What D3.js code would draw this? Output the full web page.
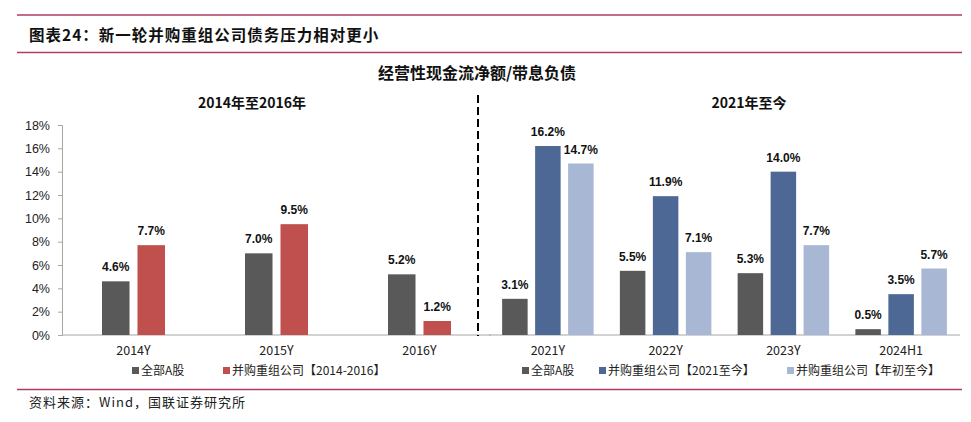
<!DOCTYPE html>
<html>
<head>
<meta charset="utf-8">
<script src="https://cdn.jsdelivr.net/npm/d3@7"></script>
<style>
  html, body { margin: 0; padding: 0; background: #ffffff; }
  svg { display: block; }
</style>
</head>
<body>
<svg id="chart" width="971" height="422"></svg>
<script>
// ---------------- data ----------------
const periodsA = ["2014Y", "2015Y", "2016Y"];
const periodsB = ["2021Y", "2022Y", "2023Y", "2024H1"];
const seriesA = ["全部A股", "并购重组公司【2014-2016】"];
const seriesB = ["全部A股", "并购重组公司【2021至今】", "并购重组公司【年初至今】"];
const allA_2014 = [4.6, 7.0, 5.2];
const ma_2014 = [7.7, 9.5, 1.2];
const allA_2021 = [3.1, 5.5, 5.3, 0.5];
const ma_2021 = [16.2, 11.9, 14.0, 3.5];
const ma_ytd = [14.7, 7.1, 7.7, 5.7];
const yTicks = [0, 2, 4, 6, 8, 10, 12, 14, 16, 18];
const headerTitle = "图表24：新一轮并购重组公司债务压力相对更小";
const chartTitle = "经营性现金流净额/带息负债";
const panelTitles = ["2014年至2016年", "2021年至今"];
const sourceText = "资料来源：Wind，国联证券研究所";

const colorsA = ["#595959", "#c0504d"];
const colorsB = ["#595959", "#4e6896", "#a8b7d4"];
const rule = "#b23a68";
const sans = "'Liberation Sans', Arial, sans-serif";
const cjk = "'Noto Sans CJK SC', 'Noto Sans', sans-serif";

const svg = d3.select("#chart");

// header rules and title
svg.append("line").attr("x1", 17).attr("x2", 962).attr("y1", 15).attr("y2", 15)
  .attr("stroke", rule).attr("stroke-width", 1.5);
svg.append("line").attr("x1", 17).attr("x2", 962).attr("y1", 52.5).attr("y2", 52.5)
  .attr("stroke", rule).attr("stroke-width", 1.5);
svg.append("text").attr("x", 29).attr("y", 40.5)
  .attr("font-family", cjk).attr("font-weight", "bold").attr("font-size", 15.5)
  .attr("letter-spacing", 1).attr("fill", "#111").text(headerTitle);

// footer
svg.append("line").attr("x1", 17).attr("x2", 962).attr("y1", 389.5).attr("y2", 389.5)
  .attr("stroke", rule).attr("stroke-width", 1.5);
svg.append("text").attr("x", 29).attr("y", 406.5)
  .attr("font-family", cjk).attr("font-size", 13).attr("letter-spacing", 1)
  .attr("fill", "#222").text(sourceText);

// chart title
svg.append("text").attr("x", 477).attr("y", 79).attr("text-anchor", "middle")
  .attr("font-family", cjk).attr("font-weight", "bold").attr("font-size", 16)
  .attr("fill", "#111").text(chartTitle);

// panel titles
svg.append("text").attr("x", 252).attr("y", 108).attr("text-anchor", "middle")
  .attr("font-family", cjk).attr("font-weight", "bold").attr("font-size", 14)
  .attr("fill", "#111").text(panelTitles[0]);
svg.append("text").attr("x", 749).attr("y", 108).attr("text-anchor", "middle")
  .attr("font-family", cjk).attr("font-weight", "bold").attr("font-size", 14)
  .attr("fill", "#111").text(panelTitles[1]);

// y scale
const y = d3.scaleLinear().domain([0, 18]).range([335, 125]);

const yAxis = svg.append("g").attr("transform", "translate(62,0)")
  .call(d3.axisLeft(y).tickValues(yTicks).tickFormat(d => d + "%").tickSize(4).tickPadding(8));
yAxis.select(".domain").attr("stroke", "#a6a6a6");
yAxis.selectAll(".tick line").attr("stroke", "#a6a6a6");
yAxis.selectAll(".tick text").attr("font-family", sans).attr("font-size", 12.5).attr("fill", "#222");

function panel(cats, seriesNames, values, colors, range, groupW, pad, legendXs) {
  const x0 = d3.scaleBand().domain(cats).range(range).paddingInner(0).paddingOuter(0);
  const x1 = d3.scaleBand().domain(seriesNames).range([-groupW / 2, groupW / 2]).paddingInner(pad).paddingOuter(0);
  // baseline
  svg.append("line").attr("x1", range[0]).attr("x2", range[1]).attr("y1", y(0)).attr("y2", y(0))
    .attr("stroke", "#a6a6a6").attr("stroke-width", 1);
  seriesNames.forEach((s, si) => {
    const g = svg.append("g");
    g.selectAll("rect").data(cats).join("rect")
      .attr("x", c => x0(c) + x0.bandwidth() / 2 + x1(s))
      .attr("y", (c, i) => y(values[si][i]))
      .attr("width", x1.bandwidth())
      .attr("height", (c, i) => y(0) - y(values[si][i]))
      .attr("fill", colors[si]);
    g.selectAll("text").data(cats).join("text")
      .attr("x", c => x0(c) + x0.bandwidth() / 2 + x1(s) + x1.bandwidth() / 2)
      .attr("y", (c, i) => y(values[si][i]) - 10)
      .attr("text-anchor", "middle")
      .attr("font-family", sans).attr("font-weight", "bold").attr("font-size", 12)
      .attr("fill", "#111")
      .text((c, i) => values[si][i].toFixed(1) + "%");
  });
  // category labels
  svg.append("g").selectAll("text").data(cats).join("text")
    .attr("x", c => x0(c) + x0.bandwidth() / 2)
    .attr("y", 355)
    .attr("text-anchor", "middle")
    .attr("font-family", cjk).attr("font-size", 12.5).attr("fill", "#222")
    .text(c => c);
  // legend
  seriesNames.forEach((s, si) => {
    svg.append("rect").attr("x", legendXs[si]).attr("y", 367).attr("width", 7).attr("height", 7)
      .attr("fill", colors[si]);
    svg.append("text").attr("x", legendXs[si] + 9).attr("y", 375)
      .attr("font-family", cjk).attr("font-size", 12).attr("fill", "#222").text(s);
  });
}

panel(periodsA, seriesA, [allA_2014, ma_2014], colorsA, [62, 491], 63, 0.225, [132, 223]);
panel(periodsB, seriesB, [allA_2021, ma_2021, ma_ytd], colorsB, [489, 960], 91.5, 0.227, [522, 599, 787]);

// dashed separator
svg.append("line").attr("x1", 478).attr("x2", 478).attr("y1", 95).attr("y2", 336)
  .attr("stroke", "#000").attr("stroke-width", 2).attr("stroke-dasharray", "8,4");
</script>
</body>
</html>
